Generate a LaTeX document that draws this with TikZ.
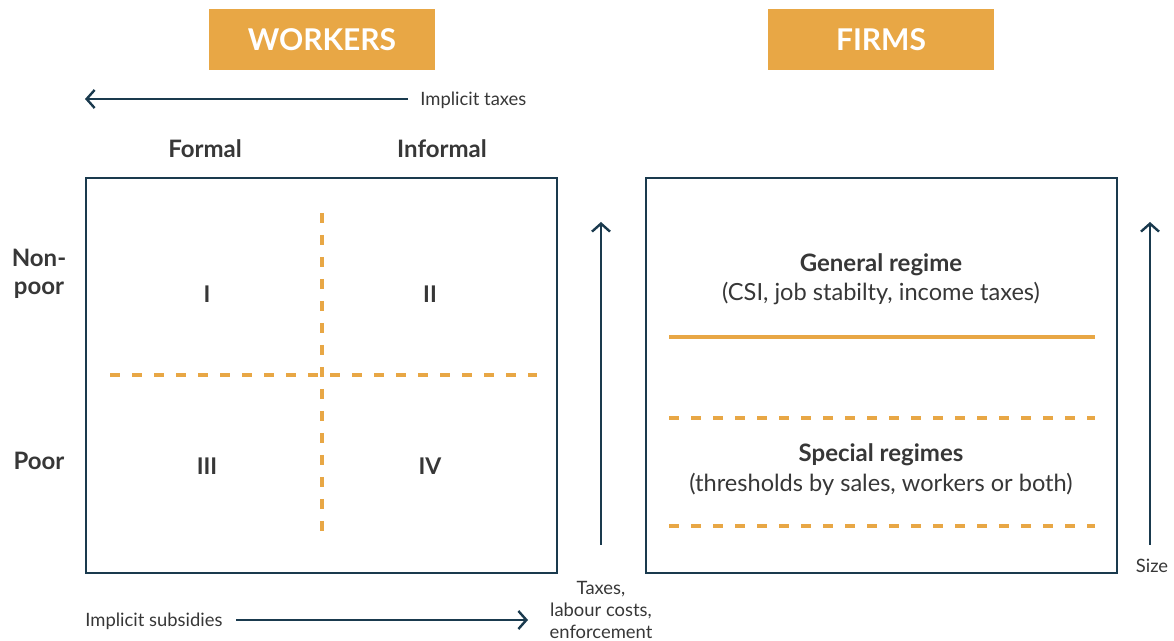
\documentclass[tikz,border=0pt]{standalone}
\usepackage{fontspec}
\setmainfont{Lato}
\usepackage{tikz}
\usetikzlibrary{arrows.meta, positioning}
\definecolor{myorange}{RGB}{232,167,69}
\definecolor{mynavy}{RGB}{26,58,78}
\definecolor{mytext}{RGB}{55,55,55}
\tikzset{
  header/.style={rectangle, fill=myorange, minimum width=113pt, minimum height=30.5pt,
    font=\fontsize{15}{18}\selectfont\bfseries, text=white},
  frame/.style={draw=mynavy, line width=1.3pt},
  colhead/.style={font=\fontsize{12}{14}\selectfont\bfseries, text=mytext},
  quad/.style={font=\fontsize{11.5}{13}\selectfont\bfseries, text=mytext},
  regtitle/.style={font=\fontsize{12}{14}\selectfont\bfseries, text=mytext},
  regsub/.style={font=\fontsize{11.8}{14}\selectfont, text=mytext},
  small/.style={font=\fontsize{9.2}{11}\selectfont, text=mytext, inner sep=0pt},
  arrow/.style={-{Straight Barb[length=4pt, width=9pt, line width=1.2pt]}, line width=1.2pt, color=mynavy},
  splitline/.style={line width=2pt, color=myorange, dash pattern=on 5pt off 6pt},
  solidline/.style={line width=2pt, color=myorange}
}
\begin{document}
\begin{tikzpicture}[x=0.5pt, y=-0.5pt]
  \useasboundingbox (0,0) rectangle (1174,641);

  % Headers
  \node[header] (workers) at (322,39.5) {WORKERS};
  \node[header] (firms) at (881,39.5) {FIRMS};

  % Implicit taxes (pointing to formal)
  \node[small, anchor=west] (taxlbl) at (420,100) {Implicit taxes};
  \coordinate (taxL) at (85,99);
  \coordinate (taxR) at (408,99);
  \draw[arrow] (taxR) -- (taxL);

  % Column headings
  \node[colhead] (formal) at (205,149) {Formal};
  \node[colhead] (informal) at (442,149) {Informal};

  % Workers box
  \draw[frame] (86,178) rectangle (557,573);
  \draw[splitline] (322,213) -- (322,542);
  \draw[splitline] (110,375) -- (537,375);

  % Quadrants
  \foreach \x/\y/\lab/\nm in {207/294/I/qone, 430/294/II/qtwo, 207/466/III/qthree, 430/466/IV/qfour} {
    \node[quad] (\nm) at (\x,\y) {\lab};
  }

  % Row headings
  \node[colhead, align=center] (nonpoor) at (39,274) {Non-\\poor};
  \node[colhead] (poor) at (39,461) {Poor};

  % Taxes arrow (up)
  \coordinate (taxB) at (601,545);
  \coordinate (taxT) at (601,222);
  \draw[arrow] (taxB) -- (taxT);
  \node[small, align=center, font=\fontsize{9.2}{11.2}\selectfont] (taxes) at (601,610)
    {Taxes,\\labour costs,\\enforcement};

  % Implicit subsidies (pointing to informal)
  \node[small, anchor=west] (sublbl) at (85,621) {Implicit subsidies};
  \coordinate (subL) at (236,620);
  \coordinate (subR) at (528,620);
  \draw[arrow] (subL) -- (subR);

  % Firms box
  \draw[frame] (646,178) rectangle (1117,573);
  \node[regtitle] (general) at (881,265) {General regime};
  \node[regsub] (generalsub) at (881,294) {(CSI, job stabilty, income taxes)};
  \draw[solidline] (669,337) -- (1095,337);
  \draw[splitline] (669,418) -- (1095,418);
  \node[regtitle] (special) at (881,455) {Special regimes};
  \node[regsub] (specialsub) at (881,484) {(thresholds by sales, workers or both)};
  \draw[splitline] (669,526) -- (1095,526);

  % Size arrow
  \coordinate (sizeB) at (1150,545);
  \coordinate (sizeT) at (1150,222);
  \draw[arrow] (sizeB) -- (sizeT);
  \node[small] (size) at (1152,566) {Size};
\end{tikzpicture}
\end{document}
